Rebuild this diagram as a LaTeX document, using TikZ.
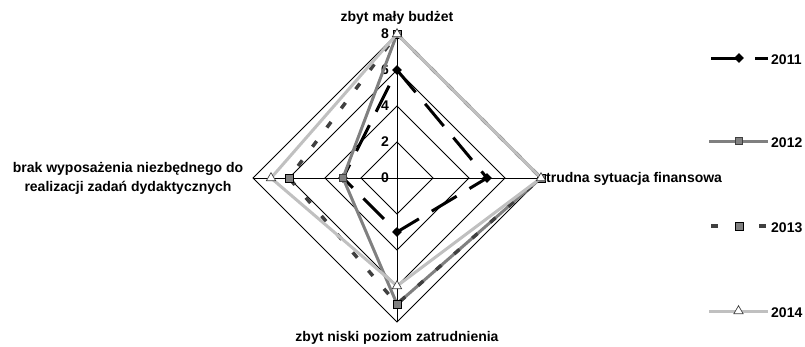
\documentclass[tikz,border=0pt]{standalone}
\usepackage{fontspec}
\setmainfont{Liberation Sans}
\usetikzlibrary{shapes.geometric}
\definecolor{serA}{HTML}{000000}
\definecolor{serB}{HTML}{808080}
\definecolor{serC}{HTML}{404040}
\definecolor{serD}{HTML}{C0C0C0}
\begin{document}
\begin{tikzpicture}[x=1pt,y=-1pt,
  gridline/.style={draw=black,line width=0.9pt},
  lnA/.style={draw=serA,line width=3pt,dash pattern=on 29pt off 15pt},
  lnB/.style={draw=serB,line width=3pt},
  lnC/.style={draw=serC,line width=3.5pt,dash pattern=on 7pt off 17pt},
  lnD/.style={draw=serD,line width=3pt},
  mkA/.style={diamond,fill=black,inner sep=0pt,minimum size=10pt},
  mkB/.style={rectangle,fill=serB,draw=serC,line width=0.6pt,inner sep=0pt,minimum size=7pt},
  mkC/.style={rectangle,fill=serB,draw=black,line width=0.8pt,inner sep=0pt,minimum size=8pt},
  mkD/.style={isosceles triangle,isosceles triangle apex angle=60,shape border rotate=90,fill=white,draw=serC,line width=0.7pt,inner sep=0pt,minimum height=8pt},
  lbl/.style={font=\fontsize{14}{19}\selectfont\bfseries,inner sep=0pt},
]
\useasboundingbox (0,0) rectangle (805,346);
\coordinate (O) at (397,178);
% grid diamonds
\foreach \r in {36,72,108,144}{
  \draw[gridline,shift={(397,178)}] (0,-\r) -- (\r,0) -- (0,\r) -- (-\r,0) -- cycle;
}
\coordinate (T) at (397,34);
\coordinate (R) at (541,178);
\coordinate (B) at (397,322);
\coordinate (L) at (253,178);
\draw[gridline] (O) -- (T);
\draw[gridline] (O) -- (R);
\draw[gridline] (O) -- (B);
\draw[gridline] (O) -- (L);
% value labels
\node[lbl] (v8) at (385,34) {8};
\node[lbl] (v6) at (385,70) {6};
\node[lbl] (v4) at (385,106) {4};
\node[lbl] (v2) at (385,142) {2};
\node[lbl] (v0) at (385,178) {0};
% series 2011
\coordinate (a1) at (397,70);
\coordinate (a2) at (487,178);
\coordinate (a3) at (397,232);
\coordinate (a4) at (343,178);
\draw[lnA] (a1) -- (a2) -- (a3) -- (a4) -- cycle;
\foreach \p in {a1,a2,a3,a4}{\node[mkA] (m\p) at (\p) {};}
% series 2012
\coordinate (b1) at (397,34);
\coordinate (b2) at (541,178);
\coordinate (b3) at (397,304);
\coordinate (b4) at (343,178);
\draw[lnB] (b1) -- (b2) -- (b3) -- (b4) -- cycle;
\foreach \p in {b1,b2,b3,b4}{\node[mkB] (m\p) at (\p) {};}
% series 2013
\coordinate (c1) at (397,34);
\coordinate (c2) at (541,178);
\coordinate (c3) at (397,304);
\coordinate (c4) at (289,178);
\draw[lnC] (c1) -- (c2) -- (c3) -- (c4) -- cycle;
\foreach \p in {c1,c2,c3,c4}{\node[mkC] (m\p) at (\p) {};}
% series 2014
\coordinate (d1) at (397,34);
\coordinate (d2) at (541,178);
\coordinate (d3) at (397,286);
\coordinate (d4) at (271,178);
\draw[lnD] (d1) -- (d2) -- (d3) -- (d4) -- cycle;
\foreach \p in {d1,d2,d3,d4}{\node[mkD] (m\p) at (\p) {};}
% category labels
\node[lbl] (catT) at (397,18) {zbyt mały budżet};
\node[lbl,anchor=west] (catR) at (546,179) {trudna sytuacja finansowa};
\node[lbl] (catB) at (397,338) {zbyt niski poziom zatrudnienia};
\node[lbl,align=center] (catL) at (128,178) {brak wyposażenia niezbędnego do\\realizacji zadań dydaktycznych};
% legend
\coordinate (la1) at (711,58);  \coordinate (la2) at (768,58);
\coordinate (lb1) at (709,141); \coordinate (lb2) at (768,141);
\coordinate (lc1) at (711,226); \coordinate (lc2) at (768,226);
\coordinate (ld1) at (709,311); \coordinate (ld2) at (768,311);
\draw[lnA] (la1) -- (la2);
\node[mkA] (lma) at (739,58) {};
\draw[lnB] (lb1) -- (lb2);
\node[mkB] (lmb) at (738.5,141) {};
\draw[lnC] (lc1) -- (lc2);
\node[mkC] (lmc) at (739,226) {};
\draw[lnD] (ld1) -- (ld2);
\node[mkD] (lmd) at (738.5,311) {};
\node[lbl,anchor=west] (ta) at (771,60) {2011};
\node[lbl,anchor=west] (tb) at (771,143) {2012};
\node[lbl,anchor=west] (tc) at (771,228) {2013};
\node[lbl,anchor=west] (td) at (771,313) {2014};
\end{tikzpicture}
\end{document}
